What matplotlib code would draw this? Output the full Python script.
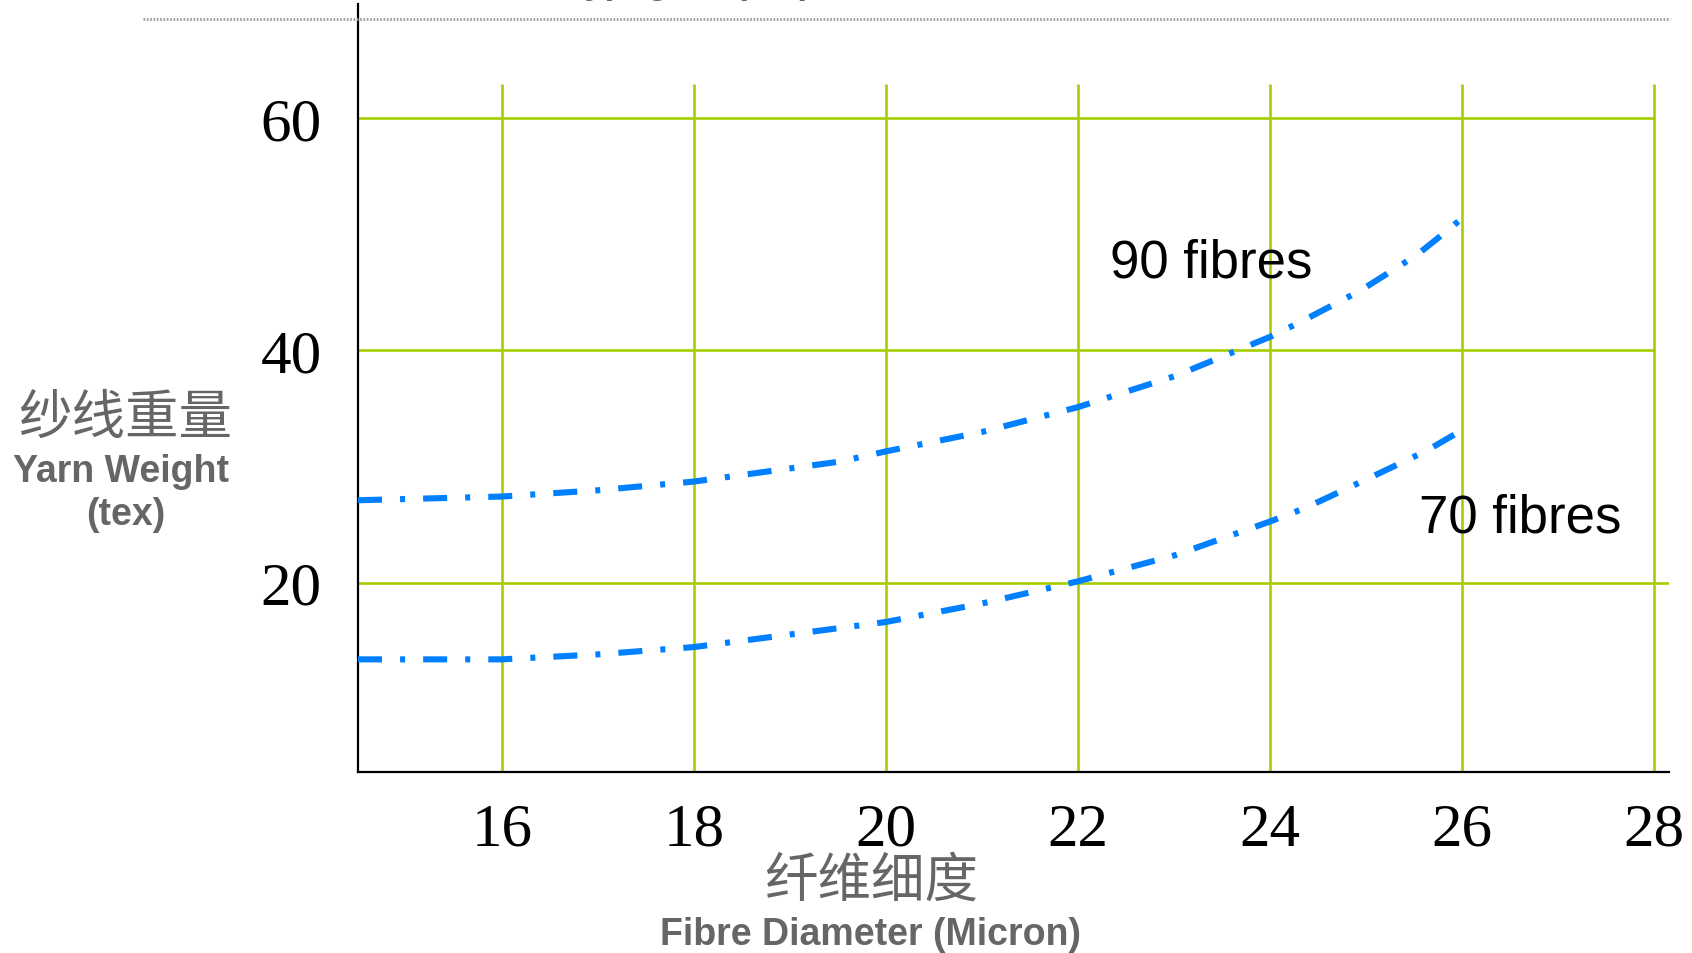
import matplotlib
matplotlib.use("Agg")
import matplotlib.pyplot as plt
from matplotlib.lines import Line2D

plt.rcParams["lines.scale_dashes"] = False

# yarn weight (tex) against fibre diameter (micron)
diam_90 = [14.5, 16.0, 17.0, 18.0, 19.52, 20.0, 21.0, 22.0, 23.02, 24.0, 24.31, 24.94, 25.53, 25.89, 26.1]
tex_90 = [27.09, 27.41, 27.95, 28.70, 30.42, 31.30, 32.97, 35.11, 37.81, 41.16, 42.41, 45.13, 48.21, 50.59, 52.1]

diam_70 = [14.5, 16.0, 17.0, 18.0, 19.52, 20.0, 21.0, 22.0, 23.02, 24.0, 24.38, 25.01, 25.63, 26.08]
tex_70 = [13.38, 13.38, 13.81, 14.44, 16.08, 16.60, 18.19, 20.10, 22.37, 25.25, 26.46, 28.90, 31.34, 33.5]

x_ticks = [16, 18, 20, 22, 24, 26, 28]
y_ticks = [20, 40, 60]

W, H = 1692, 954
BLUE = "#0080ff"
GRID = "#a6ce00"
GREY = "#666666"
SERIF = "Liberation Serif"
SANS = "Liberation Sans"
CJK = ["Noto Sans CJK SC", "DejaVu Sans"]

fig = plt.figure(figsize=(W / 100, H / 100), dpi=100)
ax = fig.add_axes([358 / W, 1 - 772.7 / H, (1669 - 358) / W, (772.7 - 5) / H])
ax.set_xlim(14.5, 28.16)
ax.set_ylim(3.7, 69.85)

for s in ["top", "right"]:
    ax.spines[s].set_visible(False)
for s in ["left", "bottom"]:
    ax.spines[s].set_linewidth(1.6)
    ax.spines[s].set_color("black")

# grid: vertical lines stop short of the top, the 20 line runs to the axis end
ax.vlines(x_ticks, 3.7, 62.95, color=GRID, lw=1.9, zorder=1)
for yv in y_ticks:
    ax.hlines(yv, 14.5, 28.16 if yv == 20 else 28, color=GRID, lw=1.9, zorder=1)

dashdot = (0, (17.3, 13.0, 3.6, 13.0))
ax.plot(diam_90, tex_90, color=BLUE, lw=4.4, ls=dashdot, zorder=3, clip_on=False)
ax.plot(diam_70, tex_70, color=BLUE, lw=4.4, ls=dashdot, zorder=3, clip_on=False)

ax.text(22.34, 46.4, "90 fibres", fontsize=38, family=SANS, va="baseline", ha="left")
ax.text(25.56, 24.44, "70 fibres", fontsize=38, family=SANS, va="baseline", ha="left")

ax.set_xticks(x_ticks)
ax.set_xticklabels([str(v) for v in x_ticks], fontsize=44, family=SERIF)
ax.set_yticks(y_ticks)
ax.set_yticklabels([str(v) for v in y_ticks], fontsize=44, family=SERIF)
ax.tick_params(axis="x", length=0, pad=22)
ax.tick_params(axis="y", length=0, pad=26)


def fx(px):
    return px / W


def fy(py):
    return 1 - py / H


# axis titles, Chinese over English
fig.text(fx(125), fy(418), "纱线重量", family=CJK, fontsize=38.5, color=GREY, ha="center", va="center")
fig.text(fx(121), fy(482), "Yarn Weight", family=SANS, fontweight="bold", fontsize=27,
         color=GREY, ha="center", va="baseline")
fig.text(fx(126), fy(525), "(tex)", family=SANS, fontweight="bold", fontsize=27,
         color=GREY, ha="center", va="baseline")
fig.text(fx(871), fy(881), "纤维细度", family=CJK, fontsize=38.5, color=GREY, ha="center", va="center")
fig.text(fx(870), fy(945), "Fibre Diameter (Micron)", family=SANS, fontweight="bold", fontsize=27,
         color=GREY, ha="center", va="baseline")

# heading sitting above the frame, with its rule
fig.text(fx(565), fy(-7), "Typ. grist (tex)", family=SANS, fontweight="bold", fontsize=26,
         color=GREY, ha="left", va="baseline")
fig.add_artist(Line2D([fx(143), fx(1670)], [fy(19.5), fy(19.5)], color="#999999", lw=2.0,
                      ls=(0, (1.2, 1.2))))

fig.savefig("out.png", dpi=100)
